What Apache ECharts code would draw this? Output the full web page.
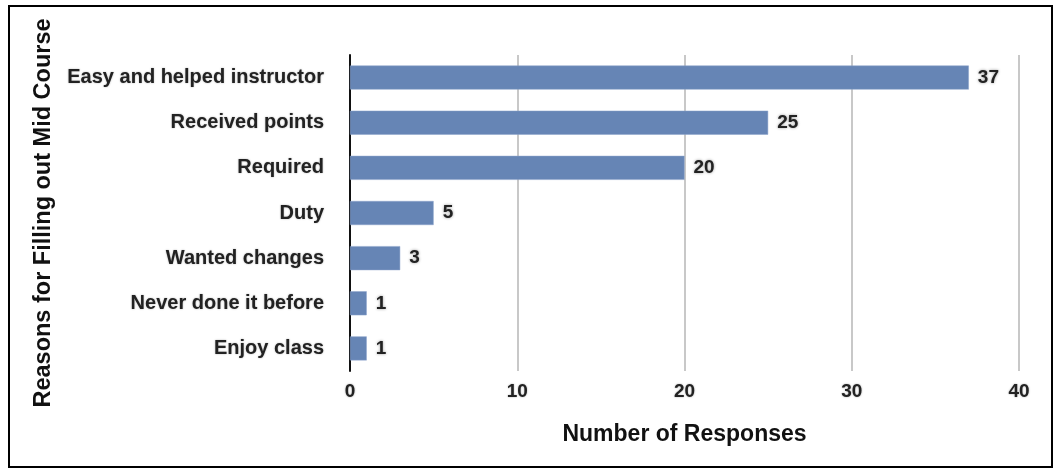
<!DOCTYPE html>
<html>
<head>
<meta charset="utf-8">
<script src="https://cdn.jsdelivr.net/npm/echarts@6/dist/echarts.min.js"></script>
<style>
html,body{margin:0;padding:0;background:#fff;}
#chart{width:1060px;height:470px;}
</style>
</head>
<body>
<div id="chart"></div>
<script>
const categories = ["Easy and helped instructor","Received points","Required","Duty","Wanted changes","Never done it before","Enjoy class"];
const values = [37,25,20,5,3,1,1];
const xTicks = [0,10,20,30,40];

const FONT = "Liberation Sans";
const chart = echarts.init(document.getElementById('chart'));
chart.setOption({
  animation:false,
  backgroundColor:'#fff',
  graphic:[{type:'rect',shape:{x:9,y:6,width:1043,height:461},style:{fill:'none',stroke:'#000',lineWidth:2},z:100}],
  grid:{left:350,right:41,top:55,bottom:99,containLabel:false},
  xAxis:{
    type:'value',min:xTicks[0],max:xTicks[xTicks.length-1],interval:10,
    name:'Number of Responses',nameLocation:'middle',nameGap:52,
    nameTextStyle:{fontFamily:FONT,fontWeight:'bold',fontSize:23,color:'#111'},
    axisLine:{show:false},axisTick:{show:false},
    axisLabel:{margin:11,fontFamily:FONT,fontWeight:'bold',fontSize:19,color:'#222',
      textShadowColor:'rgba(0,0,0,0.35)',textShadowBlur:2},
    splitLine:{show:true,lineStyle:{color:'#c8c8c8',width:2}}
  },
  yAxis:{
    type:'category',data:categories,inverse:true,
    name:'Reasons for Filling out Mid Course',nameLocation:'middle',nameGap:294,
    nameTextStyle:{fontFamily:FONT,fontWeight:'bold',fontSize:23.5,color:'#111'},
    axisLine:{show:true,lineStyle:{color:'#111',width:2}},
    axisTick:{show:false},
    axisLabel:{margin:26,fontFamily:FONT,fontWeight:'bold',fontSize:20,color:'#222',
      textShadowColor:'rgba(0,0,0,0.3)',textShadowBlur:2}
  },
  series:[{
    type:'bar',data:values,barWidth:24,
    itemStyle:{color:'#6685b5',borderColor:'#8aa3cb',borderWidth:0.5},
    label:{show:true,position:'right',distance:9,fontFamily:FONT,fontWeight:'bold',fontSize:19,color:'#222',
      textShadowColor:'rgba(0,0,0,0.4)',textShadowBlur:3}
  }]
});
</script>
</body>
</html>
